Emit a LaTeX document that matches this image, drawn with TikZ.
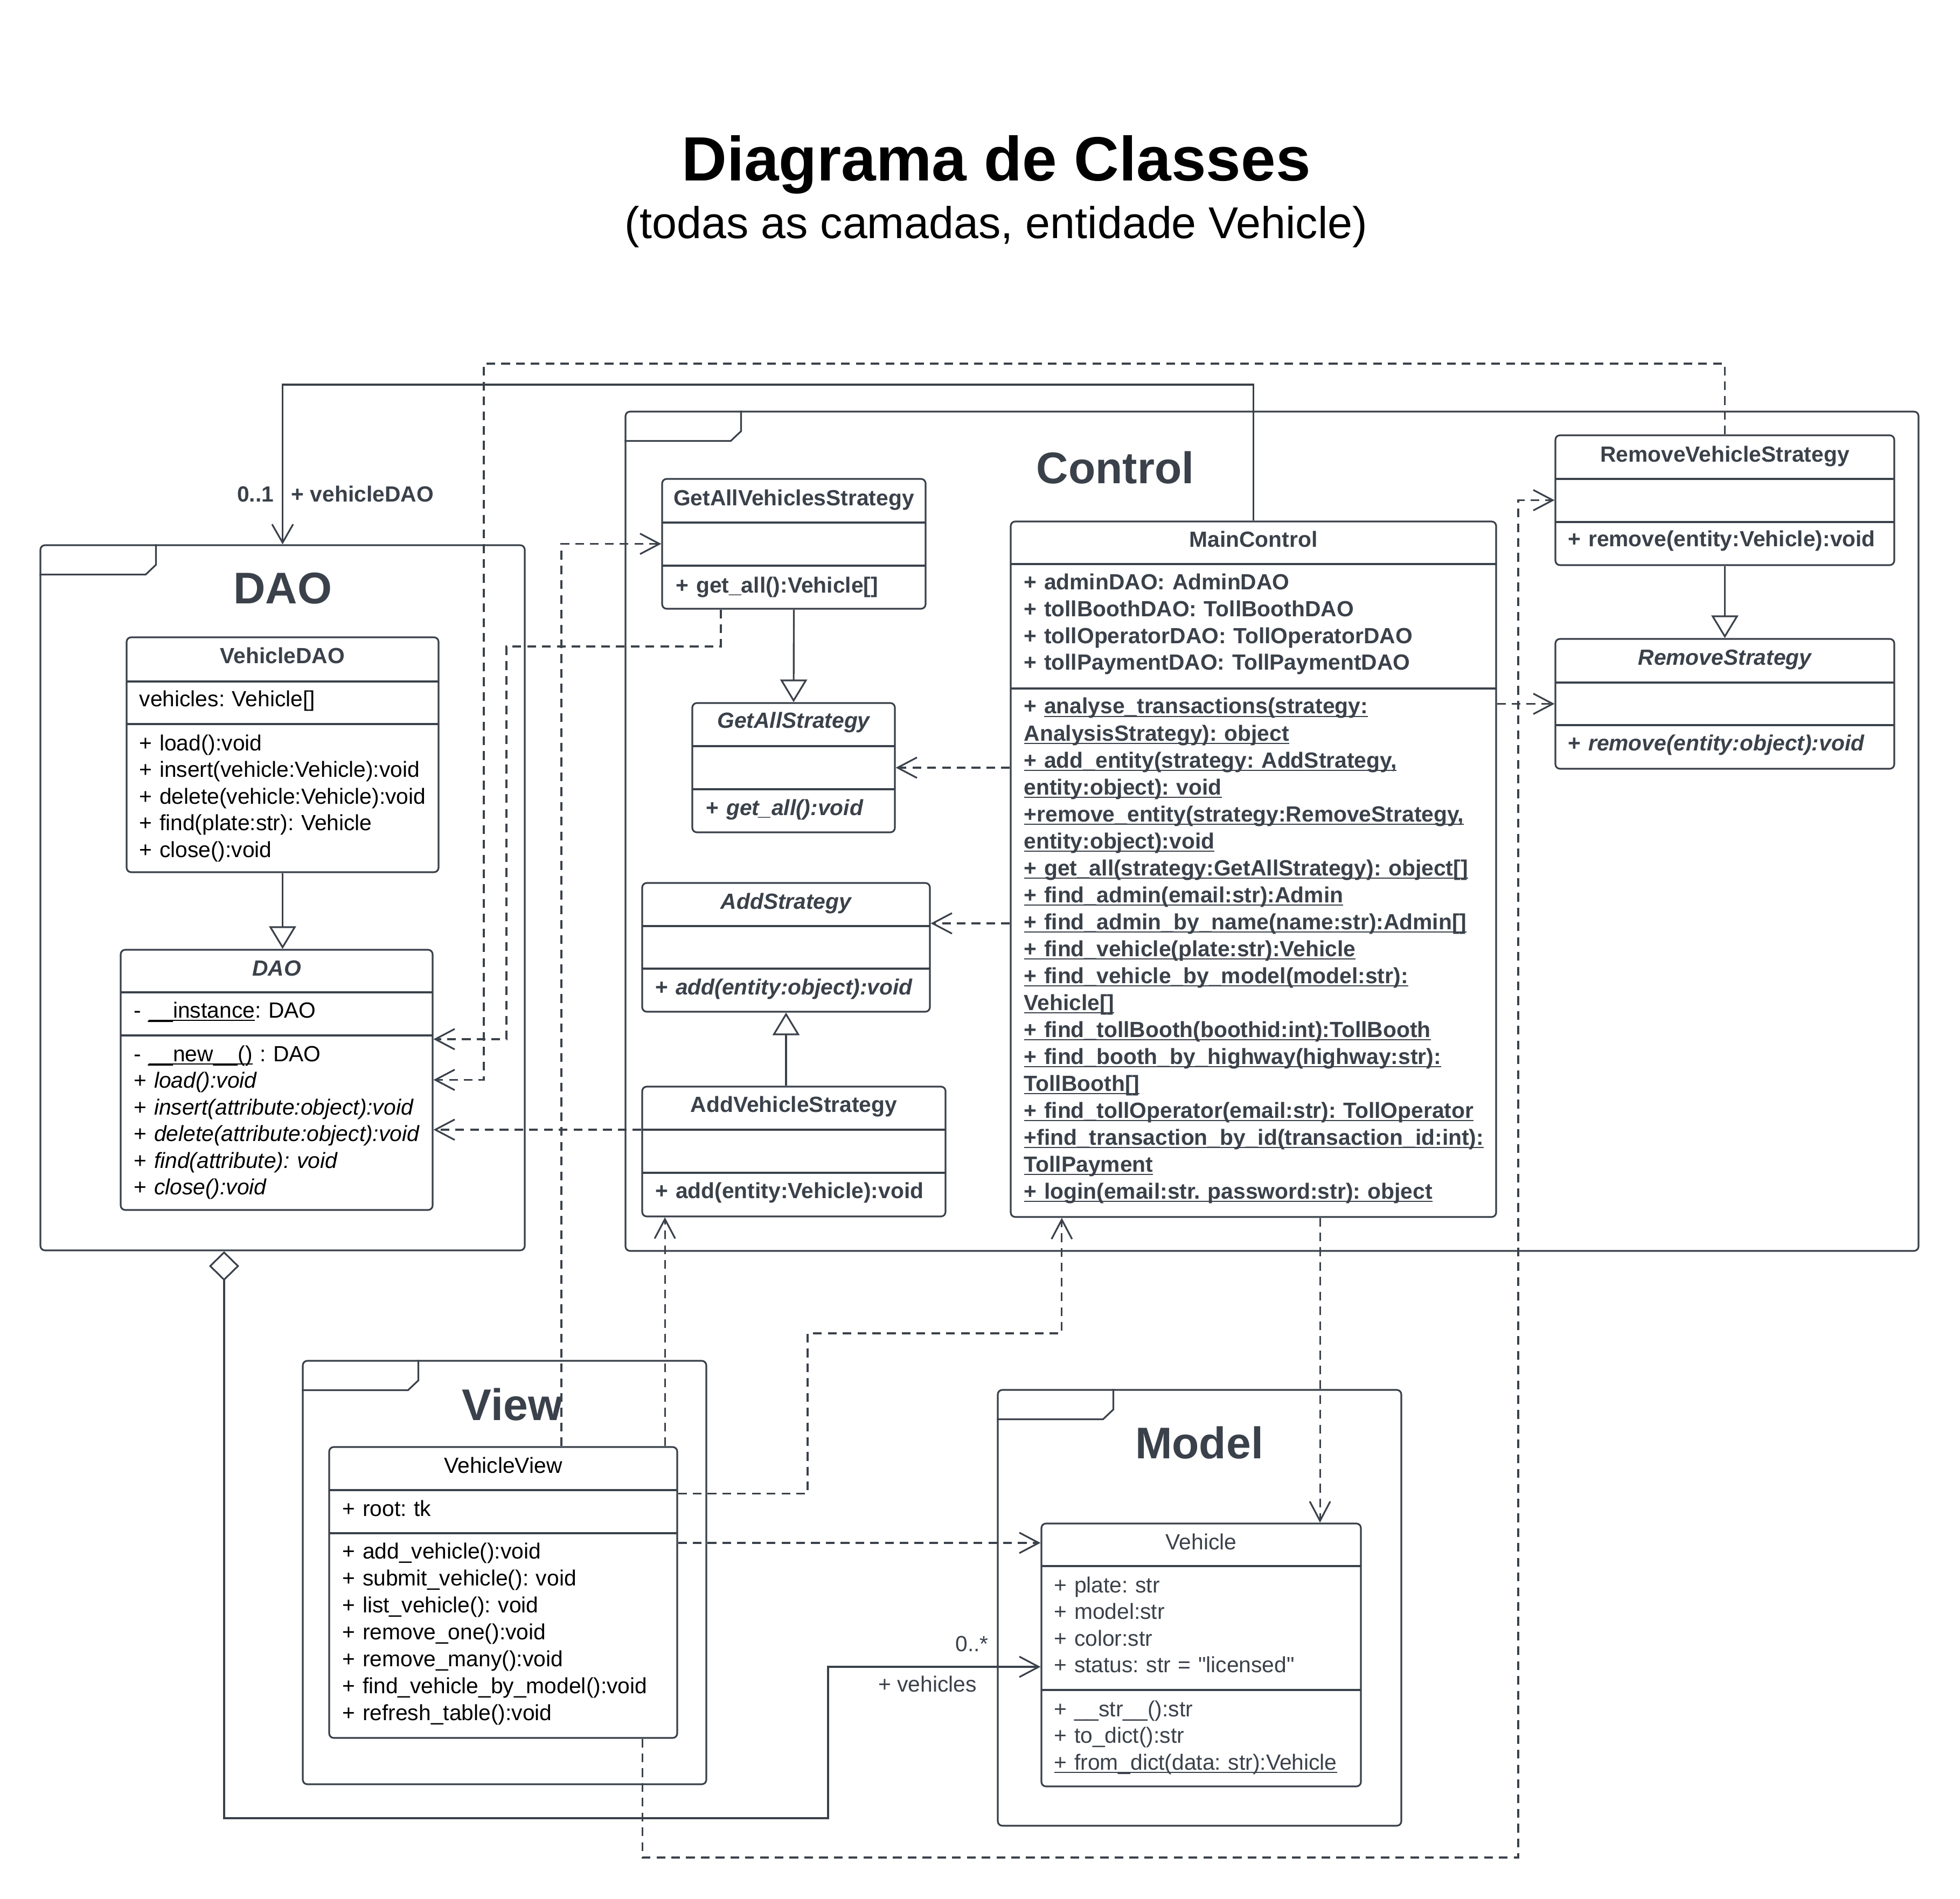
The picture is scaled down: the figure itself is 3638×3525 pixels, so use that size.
\documentclass[tikz,border=0pt]{standalone}
\usepackage{fontspec}
\setmainfont{Liberation Sans}
\usetikzlibrary{arrows.meta,fit}
\definecolor{ink}{HTML}{3A414A}
\newcommand\clsfont{\fontsize{11.6}{14.08}\selectfont\frenchspacing}
\newcommand\ulin[1]{\leavevmode\sbox0{#1}\rlap{\rule[-1.8pt]{\wd0}{0.7pt}}\usebox0}
\newcommand\umlbox[7]{%
  \node[classbox, fit={(#2,#3) (#4,#5)}] (#1) {};
  \draw[sepline] (#2,#6) -- (#4,#6) (#2,#7) -- (#4,#7);}
\newcommand\pkgtab[1]{\draw[sepline] ([yshift=-0.56cm]#1.north west) -- ++(197,0) -- ++(19,-18) -- ++(0,-38);}
\tikzset{
  pkg/.style={draw=ink, line width=0.9pt, rounded corners=2.4pt, inner sep=0pt},
  pkgname/.style={anchor=base, inner sep=0pt, text=ink, font=\fontsize{23.4}{28}\selectfont\bfseries},
  classbox/.style={draw=ink, line width=0.9pt, rounded corners=2.4pt, inner sep=0pt, fill=white},
  sepline/.style={draw=ink, line width=0.9pt},
  ctitle/.style={anchor=base, inner sep=0pt, text=ink, font=\clsfont\bfseries},
  atitle/.style={ctitle, font=\clsfont\bfseries\itshape},
  cbody/.style={anchor=base west, inner sep=0pt, align=left, text width=#1, text=ink, font=\clsfont},
  cbody/.default=6cm,
  lbl/.style={inner sep=0pt, text=ink, font=\clsfont},
  uses/.style={draw=ink, line width=0.9pt, dash pattern=on 4.6pt off 3.2pt, -{Straight Barb[length=3.6mm,width=3.8mm]}},
  inherit/.style={draw=ink, line width=0.9pt, -{Triangle[length=4.2mm,width=5mm,fill=white]}},
  assoc/.style={draw=ink, line width=0.9pt, -{Straight Barb[length=3.4mm,width=3.9mm]}},
  aggreg/.style={draw=ink, line width=0.9pt, {Diamond[length=5.5mm,width=5.6mm,fill=white]}-{Straight Barb[length=3.6mm,width=3.8mm]}}
}

\begin{document}
\begin{tikzpicture}[x=0.01cm, y=-0.01cm]
    \useasboundingbox (0,0) rectangle (3638,3525);
    \node[anchor=base, font=\fontsize{33}{40}\selectfont\bfseries] (title) at (1849,336) {Diagrama de Classes};
    \node[anchor=base, font=\fontsize{23.5}{28}\selectfont] (subtitle) at (1849,443) {(todas as camadas, entidade Vehicle)};

    \node[pkg, fit={(75,1012) (974,2321)}] (daopkg) {};
    \node[pkg, fit={(1161,764) (3561,2322)}] (ctrlpkg) {};
    \node[pkg, fit={(562,2526) (1311,3312)}] (viewpkg) {};
    \node[pkg, fit={(1852,2580) (2601,3389)}] (modelpkg) {};
    \pkgtab{daopkg}
    \pkgtab{ctrlpkg}
    \pkgtab{viewpkg}
    \pkgtab{modelpkg}
    \node[pkgname] (daoname) at (525,1121) {DAO};
    \node[pkgname] (ctrlname) at (2070,898) {Control};
    \node[pkgname] (viewname) at (951,2636) {View};
    \node[pkgname] (modelname) at (2226,2707) {Model};

    \umlbox{vdao}{235}{1183}{814}{1619}{1265}{1344}
    \node[ctitle] (vdaoT) at (524.5,1232) {VehicleDAO};
    \node[cbody, text=black] (vdaoA) at (258,1312) {vehicles: Vehicle[]};
    \node[cbody, text=black] (vdaoM) at (258,1393) {+ load():void\\+ insert(vehicle:Vehicle):void\\+ delete(vehicle:Vehicle):void\\+ find(plate:str): Vehicle\\+ close():void};

    \umlbox{dao}{224}{1763}{803}{2246}{1842}{1922}
    \node[atitle] (daoT) at (513.5,1811) {DAO};
    \node[cbody, text=black] (daoA) at (248,1889) {- \ulin{\_\_instance}: DAO};
    \node[cbody, text=black] (daoM) at (248,1970) {- \ulin{\_\_new\_\_()} : DAO\\+ \textit{load():void}\\+ \textit{insert(attribute:object):void}\\+ \textit{delete(attribute:object):void}\\+ \textit{find(attribute): void}\\+ \textit{close():void}};

    \umlbox{getVS}{1229}{889}{1718}{1130}{970}{1050}
    \node[ctitle] (getVST) at (1473.5,939) {GetAllVehiclesStrategy};
    \node[cbody, font=\clsfont\bfseries] (getVSM) at (1254,1101) {+ get\_all():Vehicle[]};

    \umlbox{getS}{1285}{1305}{1661}{1545}{1385}{1465}
    \node[atitle] (getST) at (1473,1352) {GetAllStrategy};
    \node[cbody, font=\clsfont\bfseries] (getSM) at (1310,1513) {+ \textit{get\_all():void}};

    \umlbox{addS}{1192}{1639}{1726}{1878}{1719}{1798}
    \node[atitle] (addST) at (1459,1687) {AddStrategy};
    \node[cbody, font=\clsfont\bfseries] (addSM) at (1216,1846) {+ \textit{add(entity:object):void}};

    \umlbox{addVS}{1192}{2017}{1755}{2258}{2097}{2177}
    \node[ctitle] (addVST) at (1473.5,2064) {AddVehicleStrategy};
    \node[cbody, font=\clsfont\bfseries] (addVSM) at (1216,2224) {+ add(entity:Vehicle):void};

    \umlbox{mainC}{1876}{968}{2777}{2259}{1047}{1278}
    \node[ctitle] (mainCT) at (2326.5,1016) {MainControl};
    \node[cbody=9cm, font=\clsfont\bfseries] (mainCA) at (1900,1095) {+ adminDAO: AdminDAO\\+ tollBoothDAO: TollBoothDAO\\+ tollOperatorDAO: TollOperatorDAO\\+ tollPaymentDAO: TollPaymentDAO};
    \node[cbody=9cm, font=\fontsize{11.6}{14.22}\selectfont\frenchspacing\bfseries] (mainCM) at (1900,1325) {+ \ulin{analyse\_transactions(strategy:}\\\ulin{AnalysisStrategy): object}\\\ulin{+ add\_entity(strategy: AddStrategy,}\\\ulin{entity:object): void}\\\ulin{+remove\_entity(strategy:RemoveStrategy,}\\\ulin{entity:object):void}\\\ulin{+ get\_all(strategy:GetAllStrategy): object[]}\\\ulin{+ find\_admin(email:str):Admin}\\\ulin{+ find\_admin\_by\_name(name:str):Admin[]}\\\ulin{+ find\_vehicle(plate:str):Vehicle}\\\ulin{+ find\_vehicle\_by\_model(model:str):}\\\ulin{Vehicle[]}\\\ulin{+ find\_tollBooth(boothid:int):TollBooth}\\\ulin{+ find\_booth\_by\_highway(highway:str):}\\\ulin{TollBooth[]}\\\ulin{+ find\_tollOperator(email:str): TollOperator}\\\ulin{+find\_transaction\_by\_id(transaction\_id:int):}\\\ulin{TollPayment}\\\ulin{+ login(email:str. password:str): object}};

    \umlbox{remVS}{2887}{808}{3516}{1049}{889}{969}
    \node[ctitle] (remVST) at (3201.5,858) {RemoveVehicleStrategy};
    \node[cbody, font=\clsfont\bfseries] (remVSM) at (2910,1015) {+ remove(entity:Vehicle):void};

    \umlbox{remS}{2887}{1186}{3516}{1427}{1267}{1346}
    \node[atitle] (remST) at (3201.5,1235) {RemoveStrategy};
    \node[cbody, font=\clsfont\bfseries] (remSM) at (2910,1393) {+ \textit{remove(entity:object):void}};

    \umlbox{vview}{611}{2686}{1257}{3226}{2766}{2846}
    \node[ctitle, font=\clsfont, text=black] (vviewT) at (934,2734) {VehicleView};
    \node[cbody, text=black] (vviewA) at (635,2814) {+ root: tk};
    \node[cbody, text=black, font=\fontsize{11.6}{14.25}\selectfont\frenchspacing] (vviewM) at (635,2893) {+ add\_vehicle():void\\+ submit\_vehicle(): void\\+ list\_vehicle(): void\\+ remove\_one():void\\+ remove\_many():void\\+ find\_vehicle\_by\_model():void\\+ refresh\_table():void};

    \umlbox{veh}{1933}{2828}{2526}{3316}{2907}{3137}
    \node[ctitle, font=\clsfont] (vehT) at (2229.5,2876) {Vehicle};
    \node[cbody] (vehA) at (1956,2956) {+ plate: str\\+ model:str\\+ color:str\\+ status: str = \textquotedbl licensed\textquotedbl};
    \node[cbody] (vehM) at (1956,3186) {+ \_\_str\_\_():str\\+ to\_dict():str\\\ulin{+ from\_dict(data: str):Vehicle}};

    \draw[inherit] (vdao.south) -- (vdao.south |- dao.north);
    \draw[inherit] (getVS.south) -- (getS.north);
    \draw[inherit] (addVS.north -| addS.south) -- (addS.south);
    \draw[inherit] (remVS.south) -- (remS.north);

    \coordinate (ascB) at (524.5,714);
    \draw[assoc] (mainC.north) |- (ascB) -- (daopkg.north);
    \node[lbl, anchor=base east, font=\clsfont\bfseries] (mult01) at ([xshift=-0.155cm,yshift=0.79cm]daopkg.north) {0..1};
    \node[lbl, anchor=base west, font=\clsfont\bfseries] (roleDAO) at ([xshift=0.155cm,yshift=0.79cm]daopkg.north) {+ vehicleDAO};

    \coordinate (aggB) at (1537,3375);
    \draw[aggreg] ([xshift=-1.085cm]daopkg.south) |- (aggB) |- ([yshift=-0.22cm]veh.west);
    \node[lbl, anchor=base east] (multN) at ([xshift=-0.96cm,yshift=0.07cm]veh.west) {0..*};
    \node[lbl, anchor=base east] (roleVeh) at ([xshift=-1.18cm,yshift=-0.68cm]veh.west) {+ vehicles};

    \coordinate (topL) at (898,675);
    \coordinate (gavL) at (940,1200);
    \coordinate (v2mc) at (1499,2475);
    \coordinate (lowR) at (2818,3448);
    \coordinate (mA) at ([yshift=0.445cm]addS.east);
    \draw[uses] (remVS.north) |- (topL) |- (dao.east);
    \draw[uses] ([xshift=-1.355cm]getVS.south) |- (gavL) |- ([yshift=0.755cm]dao.east);
    \draw[uses] ([yshift=0.405cm]addVS.west) coordinate (aD) -- (aD -| dao.east);
    \draw[uses] (mainC.west |- getS.east) -- (getS.east);
    \draw[uses] (mainC.west |- mA) -- (mA);
    \draw[uses] (mainC.east |- remS.west) -- (remS.west);
    \draw[uses] ([xshift=1.235cm]mainC.south) coordinate (mV) -- (mV |- veh.north);
    \draw[uses] ([xshift=1.08cm]vview.north) |- (getVS.west);
    \draw[uses] ([xshift=3cm]vview.north) coordinate (vA) -- (vA |- addVS.south);
    \draw[uses] ([yshift=1.83cm]vview.east) -| (v2mc) -| ([xshift=-3.555cm]mainC.south);
    \draw[uses] ([yshift=0.92cm]vview.east) coordinate (vV) -- (vV -| veh.west);
    \draw[uses] ([xshift=2.58cm]vview.south) |- (lowR) |- (remVS.west);
\end{tikzpicture}
\end{document}
